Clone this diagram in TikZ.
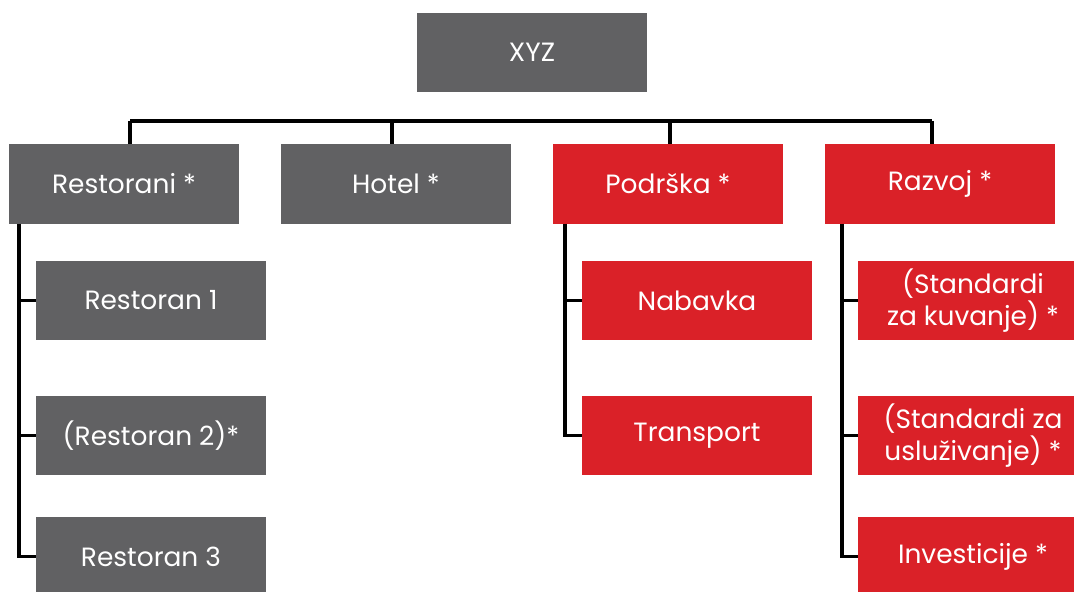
\documentclass[tikz,border=0pt]{standalone}
\usepackage{fontspec}
\setmainfont{Poppins}
\definecolor{boxgray}{HTML}{616163}
\definecolor{boxred}{HTML}{DA2128}
\begin{document}
\begin{tikzpicture}[
                        x=0.025cm, y=-0.025cm,
                        block/.style={rectangle, minimum width=5.75cm, minimum height=1.975cm, inner sep=0pt, text=white, align=center, font=\fontsize{18.8}{22.7}\selectfont},
                        grayblock/.style={block, fill=boxgray},
                        redblock/.style={block, fill=boxred},
                        link/.style={draw=black, line width=2.2pt}
                    ]
                    \useasboundingbox (0,0) rectangle (1074,592);
                    % Blocks
                    \node [grayblock] (XYZ) at (532,52.5) {XYZ};
                    \node [grayblock] (Restorani) at (124,184) {Restorani *};
                    \node [grayblock] (Hotel) at (396,184) {Hotel *};
                    \node [redblock] (Podrska) at (668,184) {Podrška *};
                    \node [redblock] (Razvoj) at (940,184) {Razvoj *};
                    \node [grayblock] (Restoran1) at (151,300.5) {Restoran 1};
                    \node [grayblock] (Restoran2) at (151,435.5) {(Restoran 2)*};
                    \node [grayblock] (Restoran3) at (151,556.5) {Restoran 3};
                    \node [redblock] (Nabavka) at (697,300.5) {Nabavka};
                    \node [redblock] (Transport) at (697,435.5) {Transport};
                    \node [redblock] (Kuvanje) at (973,300.5) {(Standardi\\za kuvanje) *};
                    \node [redblock] (Usluzivanje) at (973,435.5) {(Standardi za\\usluživanje) *};
                    \node [redblock] (Investicije) at (973,556.5) {Investicije *};

                    % Connections
                    \coordinate (busL) at (130,121);
                    \coordinate (busH) at (392,121);
                    \coordinate (busP) at (670,121);
                    \coordinate (busR) at (932,121);
                    \draw [link] (busL) -- (busR);
                    \draw [link] (busL) -- (busL |- Restorani.north);
                    \draw [link] (busH) -- (busH |- Hotel.north);
                    \draw [link] (busP) -- (busP |- Podrska.north);
                    \draw [link] (busR) -- (busR |- Razvoj.north);
                    \coordinate (trunkL) at (19,223.5);
                    \coordinate (trunkP) at (565,223.5);
                    \coordinate (trunkR) at (842,223.5);
                    \draw [link] (trunkL) |- (Restoran3.west);
                    \draw [link] (trunkL |- Restoran1.west) -- (Restoran1.west);
                    \draw [link] (trunkL |- Restoran2.west) -- (Restoran2.west);
                    \draw [link] (trunkP) |- (Transport.west);
                    \draw [link] (trunkP |- Nabavka.west) -- (Nabavka.west);
                    \draw [link] (trunkR) |- (Investicije.west);
                    \draw [link] (trunkR |- Kuvanje.west) -- (Kuvanje.west);
                    \draw [link] (trunkR |- Usluzivanje.west) -- (Usluzivanje.west);
                \end{tikzpicture}
\end{document}
